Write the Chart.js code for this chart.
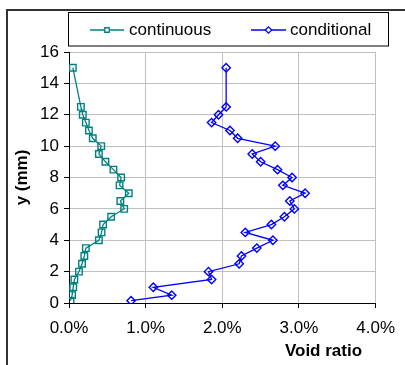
<!DOCTYPE html>
<html>
<head>
<meta charset="utf-8">
<script src="https://cdn.jsdelivr.net/npm/chart.js@4.4.1/dist/chart.umd.min.js"></script>
<style>
  html, body { margin: 0; padding: 0; background: #fff; }
  #wrap { width: 405px; height: 365px; }
</style>
</head>
<body>
<div id="wrap"><canvas id="myChart" width="405" height="365"></canvas></div>
<script>
// depth of each measuring level (mm)
const yLevels = [15, 12.5, 12, 11.5, 11, 10.5, 10, 9.5, 9, 8.5, 8, 7.5, 7, 6.5, 6,
                 5.5, 5, 4.5, 4, 3.5, 3, 2.5, 2, 1.5, 1, 0.5, 0.15];
// void ratio (%) at each level
const continuousRatio = [0.05, 0.155, 0.18, 0.22, 0.26, 0.31, 0.42, 0.39, 0.475, 0.58, 0.68, 0.66, 0.78, 0.67, 0.72,
                         0.55, 0.445, 0.425, 0.39, 0.22, 0.20, 0.17, 0.13, 0.07, 0.055, 0.04, 0.02];
const conditionalRatio = [2.05, 2.05, 1.95, 1.86, 2.10, 2.20, 2.69, 2.39, 2.50, 2.72, 2.91, 2.79, 3.08, 2.88, 2.94,
                          2.81, 2.64, 2.30, 2.66, 2.45, 2.25, 2.22, 1.82, 1.86, 1.10, 1.34, 0.81];
const seriesNames = ['continuous', 'conditional'];
const xTicks = [0, 1, 2, 3, 4];
const yTicks = [0, 2, 4, 6, 8, 10, 12, 14, 16];

const FONT = 'Liberation Sans, Arial, sans-serif';

function toPoints(xs) {
    return xs.map((v, i) => ({ x: v, y: yLevels[i] }));
}

// outer frame, legend box and x title
const decorations = {
    id: 'decorations',
    beforeDraw(chart) {
        const ctx = chart.ctx;
        ctx.save();
        ctx.fillStyle = '#fff';
        ctx.fillRect(0, 0, chart.width, chart.height);
        ctx.strokeStyle = '#333';
        ctx.lineWidth = 2;
        ctx.beginPath();
        ctx.moveTo(7, chart.height);
        ctx.lineTo(7, 10);
        ctx.lineTo(chart.width, 10);
        ctx.stroke();
        ctx.restore();
    },
    afterDraw(chart) {
        const ctx = chart.ctx;
        ctx.save();
        ctx.strokeStyle = '#000';
        ctx.lineWidth = 1;
        ctx.strokeRect(68.5, 12.5, 320, 33.5);

        const items = [
            { x1: 90, x2: 124, tx: 129 },
            { x1: 251, x2: 286, tx: 290 }
        ];
        const ly = 30;
        chart.data.datasets.forEach((ds, i) => {
            const it = items[i];
            ctx.strokeStyle = ds.borderColor;
            ctx.lineWidth = 1.3;
            ctx.beginPath();
            ctx.moveTo(it.x1, ly);
            ctx.lineTo(it.x2, ly);
            ctx.stroke();
            ctx.fillStyle = '#fff';
            Chart.helpers.drawPoint(ctx, { pointStyle: ds.pointStyle, radius: 3.2, borderWidth: 1.3 }, (it.x1 + it.x2) / 2, ly);
            ctx.fillStyle = '#000';
            ctx.font = '17px ' + FONT;
            ctx.textBaseline = 'middle';
            ctx.textAlign = 'left';
            ctx.fillText(ds.label, it.tx, ly);
        });

        const xs = chart.scales.x;
        ctx.font = 'bold 17px ' + FONT;
        ctx.textAlign = 'center';
        ctx.textBaseline = 'middle';
        ctx.fillStyle = '#000';
        ctx.fillText('Void ratio', xs.getPixelForValue(3.32), 351);
        ctx.restore();
    }
};

const canvas = document.getElementById('myChart');
const myChart = new Chart(canvas.getContext('2d'), {
    type: 'scatter',
    data: {
        datasets: [{
            label: seriesNames[0],
            data: toPoints(continuousRatio),
            showLine: true,
            borderColor: '#008080',
            backgroundColor: '#fff',
            borderWidth: 1.3,
            pointStyle: 'rect',
            pointRadius: 4.6,
            pointBorderWidth: 1.4,
            pointBackgroundColor: 'rgba(255,255,255,0)'
        }, {
            label: seriesNames[1],
            data: toPoints(conditionalRatio),
            showLine: true,
            borderColor: '#0000ff',
            backgroundColor: '#fff',
            borderWidth: 1.3,
            pointStyle: 'rectRot',
            pointRadius: 4.2,
            pointBorderWidth: 1.4,
            pointBackgroundColor: 'rgba(255,255,255,0)'
        }]
    },
    options: {
        responsive: false,
        animation: false,
        layout: { padding: { left: 0, top: 52, right: 19, bottom: 0 } },
        plugins: {
            legend: { display: false },
            tooltip: { enabled: false }
        },
        scales: {
            x: {
                type: 'linear',
                min: 0,
                max: 4,
                afterFit: (s) => { s.height = 62; },
                afterBuildTicks: (s) => { s.ticks = xTicks.map(v => ({ value: v })); },
                ticks: {
                    color: '#000',
                    padding: 10,
                    font: { family: FONT, size: 17 },
                    callback: (v) => v.toFixed(1) + '%'
                },
                grid: { color: '#c0c0c0', lineWidth: 1, tickColor: '#000', tickLength: 5 },
                border: { color: '#000', width: 1 }
            },
            y: {
                type: 'linear',
                min: 0,
                max: 16,
                afterFit: (s) => { s.width = 69; },
                afterBuildTicks: (s) => { s.ticks = yTicks.map(v => ({ value: v })); },
                ticks: {
                    color: '#000',
                    padding: 5,
                    font: { family: FONT, size: 17 }
                },
                grid: { color: '#c0c0c0', lineWidth: 1, tickColor: '#000', tickLength: 5 },
                border: { color: '#000', width: 1 },
                title: {
                    display: true,
                    text: 'y (mm)',
                    color: '#000',
                    font: { family: FONT, size: 17, weight: 'bold' },
                    padding: { top: 12, bottom: 0 }
                }
            }
        }
    },
    plugins: [decorations]
});
</script>
</body>
</html>
